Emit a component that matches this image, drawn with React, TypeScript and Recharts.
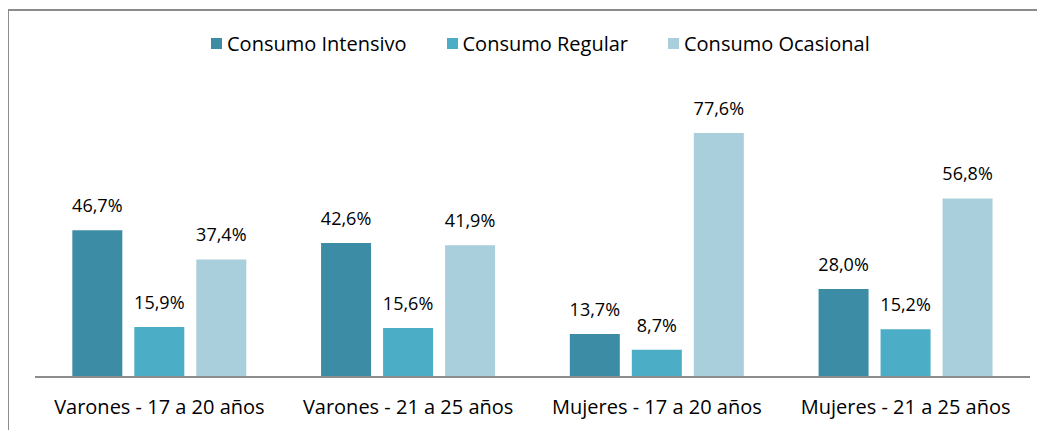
import * as React from 'react';
import { BarChart, Bar, XAxis, YAxis, LabelList } from 'recharts';

const categories = [
  'Varones - 17 a 20 años',
  'Varones - 21 a 25 años',
  'Mujeres - 17 a 20 años',
  'Mujeres - 21 a 25 años',
];
const intensivo = [46.7, 42.6, 13.7, 28.0];
const regular = [15.9, 15.6, 8.7, 15.2];
const ocasional = [37.4, 41.9, 77.6, 56.8];

const seriesNames = ['Consumo Intensivo', 'Consumo Regular', 'Consumo Ocasional'];
const seriesColors = ['#3C8CA5', '#4BADC6', '#A9CFDC'];

const data = categories.map((name, i) => ({
  name,
  intensivo: intensivo[i],
  regular: regular[i],
  ocasional: ocasional[i],
}));

const keys = ['intensivo', 'regular', 'ocasional'];
const FONT = '"Open Sans", sans-serif';

const fmt = (v: any) => `${Number(v).toFixed(1).replace('.', ',')}%`;

export default function App() {
  return (
    <div style={{ width: 1037, height: 422, overflow: 'hidden', position: 'relative', fontFamily: FONT }}>
      {/* frame: only top and left edges show inside the window */}
      <div
        style={{
          position: 'absolute',
          left: -1,
          top: 1,
          width: 1100,
          height: 500,
          borderTop: '2px solid #8c8c8c',
          borderLeft: '2px solid #8c8c8c',
        }}
      />
      <div
        style={{
          position: 'absolute',
          top: 22,
          left: 203,
          display: 'flex',
          alignItems: 'center',
          fontSize: 20,
          color: '#000',
        }}
      >
        {seriesNames.map((s, i) => (
          <div key={s} style={{ display: 'flex', alignItems: 'center', marginRight: 40 }}>
            <span style={{ width: 11, height: 11, background: seriesColors[i], marginRight: 5, display: 'inline-block' }} />
            <span>{s}</span>
          </div>
        ))}
      </div>
      <BarChart
        width={1037}
        height={422}
        data={data}
        margin={{ top: 86, right: 15, bottom: 13, left: 27 }}
        barCategoryGap="15%"
        barGap={12}
        style={{ position: 'absolute', left: 0, top: 0 }}
      >
        <XAxis
          dataKey="name"
          tickLine={false}
          axisLine={{ stroke: '#8c8c8c', strokeWidth: 2 }}
          tick={{ fill: '#000', fontSize: 20, fontFamily: FONT }}
          tickMargin={17}
          height={40}
        />
        <YAxis hide domain={[0, 90]} />
        {keys.map((k, i) => (
          <Bar key={k} dataKey={k} name={seriesNames[i]} fill={seriesColors[i]} isAnimationActive={false}>
            <LabelList
              dataKey={k}
              position="top"
              offset={18}
              formatter={fmt}
              style={{ fill: '#000', fontSize: 18, fontFamily: FONT }}
            />
          </Bar>
        ))}
      </BarChart>
    </div>
  );
}
